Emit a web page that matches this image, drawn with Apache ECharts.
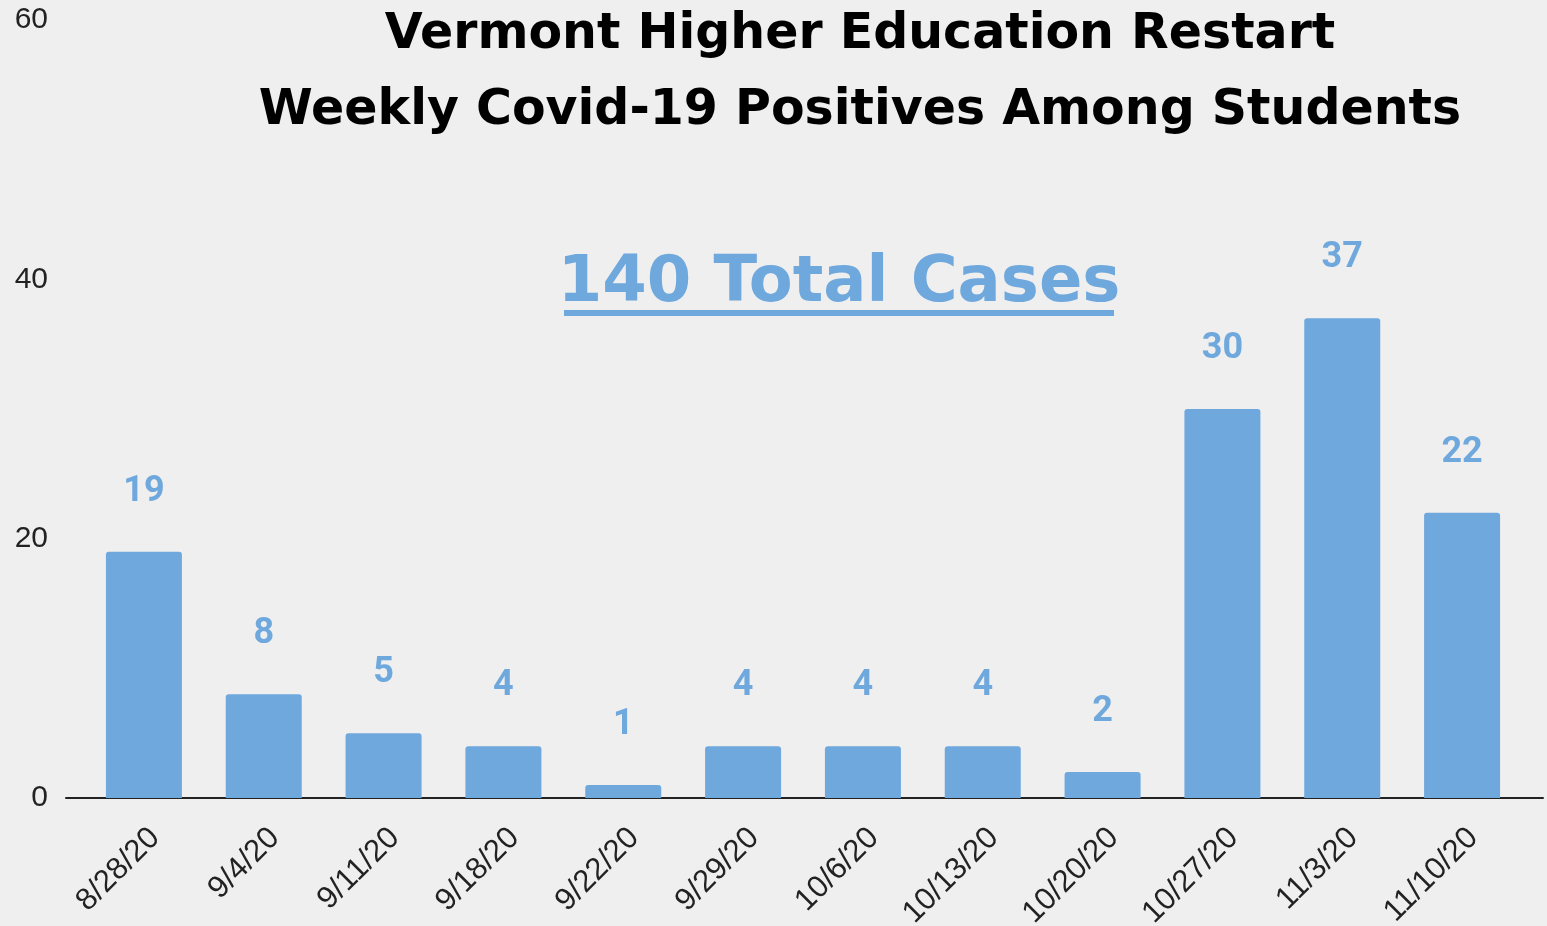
<!DOCTYPE html>
<html>
<head>
<meta charset="utf-8">
<style>
  html, body { margin: 0; padding: 0; background: #efefef; }
  #chart { width: 1547px; height: 926px; }
</style>
<script src="https://cdn.jsdelivr.net/npm/echarts@6/dist/echarts.min.js"></script>
</head>
<body>
<div id="chart"></div>
<script>
// Weekly positive Covid-19 tests among Vermont college students
const weeks = ['8/28/20', '9/4/20', '9/11/20', '9/18/20', '9/22/20', '9/29/20',
               '10/6/20', '10/13/20', '10/20/20', '10/27/20', '11/3/20', '11/10/20'];
const positives = [19, 8, 5, 4, 1, 4, 4, 4, 2, 30, 37, 22];
const yTicks = [0, 20, 40, 60];
const titleLines = ['Vermont Higher Education Restart', 'Weekly Covid-19 Positives Among Students'];
const totalCases = positives.reduce((a, b) => a + b, 0);
const totalText = totalCases + ' Total Cases';

const BLUE = '#6fa8dc';
const chart = echarts.init(document.getElementById('chart'), null, { renderer: 'canvas' });

chart.setOption({
  backgroundColor: '#efefef',
  animation: false,
  title: {
    text: titleLines.join('\n'),
    left: 855,
    top: -8,
    textAlign: 'center',
    textStyle: {
      fontFamily: 'DejaVu Sans',
      fontWeight: 'bold',
      fontSize: 49,
      lineHeight: 76,
      color: '#000'
    }
  },
  grid: [
    // bars
    { left: 84, right: 25, top: 20, bottom: 128, containLabel: false, outerBoundsMode: 'none' },
    // baseline spanning the full width
    { left: 66, right: 4, top: 20, bottom: 128, containLabel: false, outerBoundsMode: 'none' }
  ],
  xAxis: [
    {
      type: 'category',
      gridIndex: 0,
      data: weeks,
      axisLine: { show: false },
      axisTick: { show: false },
      axisLabel: {
        rotate: 45,
        margin: 24,
        verticalAlign: 'top',
        fontSize: 31,
        fontFamily: 'Liberation Sans',
        color: '#222',
        interval: 0
      }
    },
    {
      type: 'value',
      gridIndex: 1,
      min: 0,
      max: 1,
      axisLine: { show: true, onZero: true, lineStyle: { color: '#222', width: 2 } },
      axisTick: { show: false },
      axisLabel: { show: false },
      splitLine: { show: false }
    }
  ],
  yAxis: [
    {
      type: 'value',
      gridIndex: 0,
      min: 0,
      max: 60,
      interval: 20,
      axisLine: { show: false },
      axisTick: { show: false },
      splitLine: { show: false },
      axisLabel: {
        margin: 36,
        fontSize: 30,
        fontFamily: 'Liberation Sans',
        color: '#222',
        formatter: v => (yTicks.indexOf(v) >= 0 ? String(v) : '')
      }
    },
    {
      type: 'value',
      gridIndex: 1,
      min: 0,
      max: 60,
      show: false
    }
  ],
  graphic: [
    {
      type: 'text',
      x: 839,
      y: 284,
      style: {
        text: totalText,
        textAlign: 'center',
        textVerticalAlign: 'middle',
        fontFamily: 'DejaVu Sans',
        fontWeight: 'bold',
        fontSize: 64,
        fill: BLUE
      }
    },
    {
      type: 'rect',
      shape: { x: 564, y: 310, width: 550, height: 6 },
      style: { fill: BLUE }
    }
  ],
  series: [
    {
      type: 'bar',
      xAxisIndex: 0,
      yAxisIndex: 0,
      data: positives,
      barWidth: 76,
      itemStyle: { color: BLUE, borderRadius: [3, 3, 0, 0] },
      label: {
        show: true,
        position: 'top',
        distance: 42,
        fontFamily: 'Roboto',
        fontWeight: 'bold',
        fontSize: 36,
        color: BLUE
      }
    }
  ]
});
</script>
</body>
</html>
